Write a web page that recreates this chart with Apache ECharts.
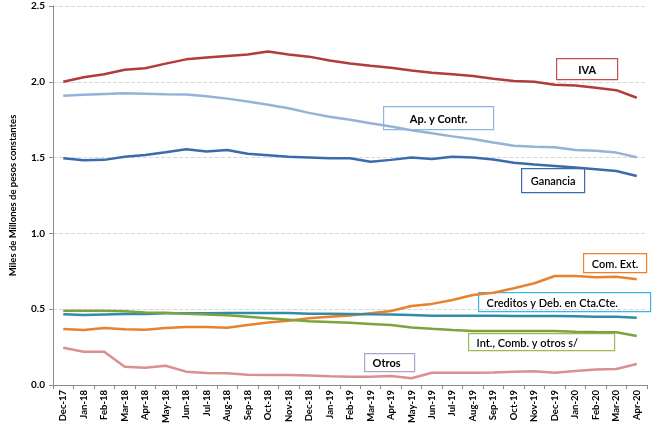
<!DOCTYPE html>
<html><head><meta charset="utf-8">
<script src="https://cdn.jsdelivr.net/npm/echarts@6/dist/echarts.min.js"></script>
<style>html,body{margin:0;padding:0;background:#fff}#c{width:655px;height:428px}</style>
</head><body><div id="c"></div>
<script>
var months = ["Dec-17","Jan-18","Feb-18","Mar-18","Apr-18","May-18","Jun-18","Jul-18","Aug-18","Sep-18","Oct-18","Nov-18","Dec-18","Jan-19","Feb-19","Mar-19","Apr-19","May-19","Jun-19","Jul-19","Aug-19","Sep-19","Oct-19","Nov-19","Dec-19","Jan-20","Feb-20","Mar-20","Apr-20"];
var iva = [2.00,2.03,2.05,2.08,2.09,2.12,2.148,2.16,2.17,2.18,2.20,2.18,2.166,2.14,2.12,2.106,2.093,2.075,2.06,2.05,2.038,2.02,2.005,2.0,1.98,1.975,1.96,1.945,1.895];
var apContr = [1.908,1.915,1.92,1.924,1.921,1.918,1.917,1.905,1.889,1.87,1.849,1.825,1.795,1.77,1.75,1.726,1.705,1.68,1.66,1.64,1.623,1.60,1.578,1.572,1.568,1.55,1.545,1.533,1.502];
var ganancia = [1.495,1.483,1.485,1.505,1.517,1.535,1.555,1.54,1.55,1.525,1.515,1.505,1.50,1.495,1.495,1.473,1.485,1.50,1.49,1.505,1.50,1.487,1.466,1.455,1.445,1.434,1.423,1.412,1.379];
var comExt = [0.369,0.363,0.376,0.367,0.365,0.376,0.383,0.383,0.378,0.396,0.413,0.424,0.44,0.45,0.458,0.474,0.488,0.521,0.535,0.561,0.594,0.609,0.638,0.671,0.719,0.719,0.71,0.714,0.697];
var creditos = [0.466,0.462,0.465,0.468,0.468,0.474,0.474,0.474,0.475,0.475,0.475,0.475,0.47,0.47,0.468,0.466,0.465,0.462,0.457,0.457,0.456,0.456,0.455,0.455,0.455,0.453,0.451,0.451,0.444];
var intComb = [0.49,0.49,0.49,0.487,0.479,0.477,0.47,0.465,0.46,0.45,0.44,0.43,0.42,0.416,0.41,0.403,0.396,0.38,0.371,0.363,0.357,0.356,0.356,0.357,0.356,0.352,0.349,0.348,0.323];
var otros = [0.246,0.22,0.22,0.121,0.114,0.127,0.088,0.079,0.077,0.068,0.066,0.066,0.062,0.057,0.055,0.055,0.059,0.044,0.081,0.081,0.081,0.083,0.088,0.09,0.081,0.092,0.103,0.106,0.139];
var yTicks = [0, 0.5, 1.0, 1.5, 2.0, 2.5];

var FONT = 'Lato, "Open Sans", sans-serif';
function line(name, data, color){
  return {name:name,type:'line',data:data,symbol:'none',smooth:false,
    lineStyle:{color:color,width:2.5},itemStyle:{color:color},z:2};
}
function box(x,y,w,h,border,text,align,weight){
  return {type:'group',left:x,top:y,z:10,children:[
    {type:'rect',shape:{x:0,y:0,width:w,height:h},style:{fill:'#fff',stroke:border,lineWidth:1.2}},
    {type:'text',x:align==='left'?8:w/2,y:h/2+1,style:{text:text,fill:'#000',font:(weight||'bold')+' 11px '+FONT,
      textAlign:align==='left'?'left':'center',textVerticalAlign:'middle'}}
  ]};
}
var chart = echarts.init(document.getElementById('c'));
chart.setOption({
  animation:false,
  grid:{left:53,right:8,top:6,bottom:43},
  xAxis:{type:'category',data:months,boundaryGap:true,
    axisLine:{lineStyle:{color:'#8c8c8c'}},
    axisTick:{show:true,interval:0,length:4,lineStyle:{color:'#8c8c8c'}},
    axisLabel:{interval:0,rotate:90,fontSize:9.5,fontWeight:'bold',color:'#000',fontFamily:FONT,margin:5}},
  yAxis:{type:'value',min:0,max:2.5,interval:0.5,
    name:'Miles de Millones de pesos constantes',nameLocation:'middle',nameGap:35,
    nameTextStyle:{fontSize:9.5,fontWeight:'bold',color:'#000',fontFamily:FONT},
    axisLine:{show:true,lineStyle:{color:'#8c8c8c'}},
    axisTick:{show:true,length:4,lineStyle:{color:'#8c8c8c'}},
    axisLabel:{fontSize:10,fontWeight:'bold',color:'#000',fontFamily:FONT,margin:8,
      formatter:function(v){return yTicks.indexOf(v)>=0?v.toFixed(1):'';}},
    splitLine:{show:true,lineStyle:{color:'#d9d9d9',type:'dashed'}}},
  series:[
    line('IVA',iva,'#B23B3B'),
    line('Ap. y Contr.',apContr,'#95B3D7'),
    line('Ganancia',ganancia,'#3A6BAA'),
    line('Com. Ext.',comExt,'#E8822F'),
    line('Creditos y Deb. en Cta.Cte.',creditos,'#2F8DA6'),
    line('Int., Comb. y otros s/',intComb,'#7BA43F'),
    line('Otros',otros,'#D9908E')
  ],
  graphic:[
    box(556,58,61,21,'#C0504D','IVA'),
    box(383,106,110,23,'#8DB4E2','Ap. y Contr.'),
    box(521,168,63,24,'#3A6BAA','Ganancia','center','600'),
    box(583,253,63,19,'#F07F2A','Com. Ext.','center','600'),
    box(478,292,172,19,'#3CB4E5','Creditos y Deb. en Cta.Cte.','left','600'),
    box(468,333,146,17,'#9BBB59','Int., Comb. y otros s/','left','600'),
    box(364,353,50,18,'#B3A2C7','Otros','left')
  ]
});
</script></body></html>
